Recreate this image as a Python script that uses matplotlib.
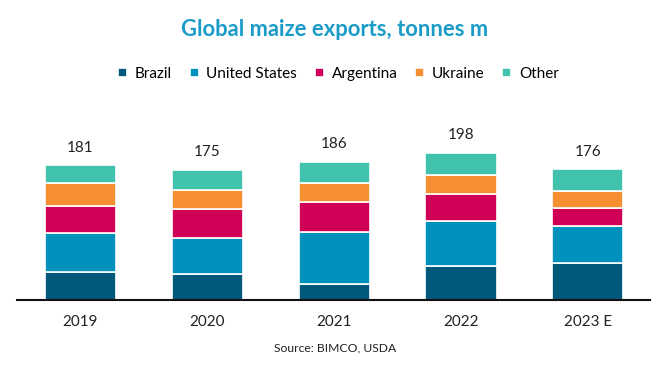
import numpy as np
import matplotlib
matplotlib.use("Agg")
import matplotlib.pyplot as plt

years = ["2019", "2020", "2021", "2022", "2023 E"]
brazil = [37.2, 35.0, 21.1, 46.2, 49.7]
usa = [52.8, 48.9, 70.3, 60.5, 49.3]
argentina = [36.7, 38.0, 39.9, 35.4, 25.1]
ukraine = [30.0, 26.5, 25.5, 26.5, 21.9]
other = [24.3, 26.6, 29.2, 29.4, 30.0]
totals = [181, 175, 186, 198, 176]

series = [("Brazil", brazil, "#00587A"),
          ("United States", usa, "#0091BD"),
          ("Argentina", argentina, "#D00057"),
          ("Ukraine", ukraine, "#F68E32"),
          ("Other", other, "#41C2AC")]

plt.rcParams['font.family'] = ['Lato', 'DejaVu Sans']

fig = plt.figure(figsize=(6.7, 3.8), dpi=100)
ax = fig.add_axes([17 / 670, 80 / 380, 633 / 670, 163.7 / 380])

x = np.arange(len(years))
bottom = np.zeros(len(years))
handles = []
for name, vals, col in series:
    b = ax.bar(x, vals, 0.56, bottom=bottom, color=col, edgecolor="white",
               linewidth=1.2, label=name)
    handles.append(b)
    bottom += np.array(vals)

for xi, tot, top in zip(x, totals, bottom):
    ax.text(xi, top + 14, str(tot), ha="center", va="bottom", fontsize=11,
            color="#222222")

ax.set_xlim(-0.5, 4.49)
ax.set_ylim(0, 220)
ax.set_xticks(x)
ax.set_xticklabels(years, fontsize=11, color="#222222")
ax.tick_params(axis="x", length=0, pad=11)
ax.set_yticks([])
for s in ["top", "right", "left"]:
    ax.spines[s].set_visible(False)
ax.spines["bottom"].set_linewidth(1.5)
ax.spines["bottom"].set_color("#111111")

fig.text(0.5, 1 - 30 / 380, "Global maize exports, tonnes m", ha="center",
         va="center", fontsize=15.8, fontweight="bold", color="#1A9BC8")
fig.legend(handles=handles, loc="center", bbox_to_anchor=(0.505, 1 - 74 / 380),
           ncol=5, frameon=False, fontsize=11, handlelength=0.6,
           handleheight=0.6, handletextpad=0.5, columnspacing=1.15)
fig.text(0.5, 1 - 348 / 380, "Source: BIMCO, USDA", ha="center", va="center",
         fontsize=8.7, color="#222222")

fig.savefig("out.png", dpi=100)
